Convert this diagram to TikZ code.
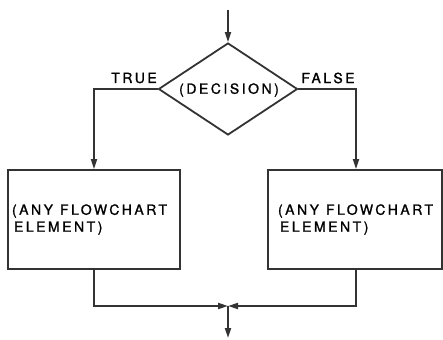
\documentclass[tikz,border=0pt]{standalone}
\usepackage{fontspec}
\setmainfont{TeX Gyre Heros}
\newfontfamily\lettering[LetterSpace=18,FakeBold=1.2]{TeX Gyre Heros}
\newcommand{\wsp}{\hspace{7pt}}
\usetikzlibrary{shapes.geometric,arrows.meta}
\tikzset{
  every node/.style={font=\lettering\fontsize{14}{17}\selectfont},
  flow/.style={line width=1.8pt, draw=black!80},
  arr/.style={flow, -{Triangle[length=10pt,width=6pt]}},
  decisionbox/.style={diamond, draw=black!80, line width=1.8pt, minimum width=139pt, minimum height=92pt, inner sep=0pt},
  elementbox/.style={rectangle, draw=black!80, line width=1.8pt, minimum height=99pt, inner sep=4pt, align=left},
  lbl/.style={inner sep=0pt}
}
\begin{document}
\begin{tikzpicture}[x=1pt,y=1pt]
\useasboundingbox (0,0) rectangle (443,339);
\coordinate (in) at (228,329);
\node[decisionbox] (dec) at (228,250) {};
\node[lbl] (dectext) at (229,249) {(DECISION)};
\node[elementbox, minimum width=172pt, text width=164pt] (lb) at (94,119.5) {(ANY\wsp FLOWCHART\\\hspace*{2pt}ELEMENT)\\[6pt]};
\node[elementbox, minimum width=174pt, text width=166pt] (rb) at (355,119.5) {\hspace*{6pt}(ANY\wsp FLOWCHART\\\hspace*{8pt}ELEMENT)\\[6pt]};
\node[lbl] (true) at (134,261) {TRUE};
\node[lbl] (false) at (328,261) {FALSE};
\coordinate (tl) at (94,250);
\coordinate (tr) at (356,250);
\coordinate (j) at (228,33);
\coordinate (out) at (228,1);
\draw[arr] (in) -- (dec.north);
\draw[arr] (dec.west) -- (tl) -- (tl |- lb.north);
\draw[arr] (dec.east) -- (tr) -- (tr |- rb.north);
\draw[arr] (lb.south) |- (j);
\draw[arr] (rb.south -| tr) |- (j);
\draw[arr] (j) -- (out);
\end{tikzpicture}
\end{document}
